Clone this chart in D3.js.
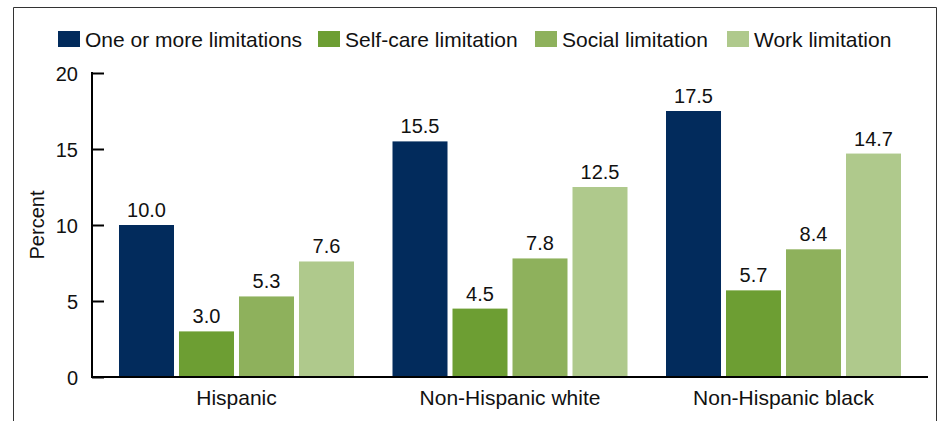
<!DOCTYPE html>
<html><head><meta charset="utf-8">
<script src="https://cdn.jsdelivr.net/npm/d3@7/dist/d3.min.js"></script>
<style>body{margin:0;background:#fff}svg{display:block;font-family:"Liberation Sans",Arial,sans-serif}</style>
</head><body><svg id="c" width="943" height="421"></svg>
<script>
const categories = ["Hispanic", "Non-Hispanic white", "Non-Hispanic black"];
const seriesNames = ["One or more limitations", "Self-care limitation", "Social limitation", "Work limitation"];
const oneOrMore = [10.0, 15.5, 17.5];
const selfCare = [3.0, 4.5, 5.7];
const social = [5.3, 7.8, 8.4];
const work = [7.6, 12.5, 14.7];
const yTicks = [0, 5, 10, 15, 20];
const colors = ["#022b5c", "#6d9e33", "#8eb15c", "#afc98c"];

const seriesValues = [oneOrMore, selfCare, social, work];
const svg = d3.select("#c");

// frame
svg.append("path").attr("d", "M13.5,421 V7.5 H936.5 V421").attr("fill", "none").attr("stroke", "#333").attr("stroke-width", 1);

const y = d3.scaleLinear().domain([0, 20]).range([377, 73]);
const x0 = d3.scaleBand().domain(categories).range([92, 928]).paddingInner(0.1408).paddingOuter(0.0987);
const x1 = d3.scaleBand().domain(seriesNames).range([0, x0.bandwidth()]).paddingInner(0.0833).paddingOuter(0);

const g = svg.append("g");
categories.forEach((c, ci) => {
  seriesNames.forEach((s, si) => {
    const v = seriesValues[si][ci];
    const bx = x0(c) + x1(s);
    g.append("rect").attr("x", bx).attr("y", y(v)).attr("width", x1.bandwidth()).attr("height", y(0) - y(v)).attr("fill", colors[si]);
    g.append("text").attr("x", bx + x1.bandwidth() / 2).attr("y", y(v) - 8).attr("text-anchor", "middle")
      .attr("font-size", 20).attr("fill", "#111").text(v.toFixed(1));
  });
});

// y axis
const ya = svg.append("g").attr("transform", "translate(92,0)")
  .call(d3.axisRight(y).tickValues(yTicks).tickSize(12).tickFormat(d3.format("d")));
ya.select(".domain").remove();
ya.selectAll(".tick line").attr("stroke", "#000").attr("stroke-width", 2);
ya.selectAll(".tick text").attr("x", -14).attr("text-anchor", "end").attr("font-size", 20).attr("fill", "#111").attr("dy", "0.35em");
svg.append("line").attr("x1", 92).attr("x2", 92).attr("y1", 72).attr("y2", 378).attr("stroke", "#000").attr("stroke-width", 2);

// x axis
const xa = svg.append("g").attr("transform", "translate(0,377)")
  .call(d3.axisBottom(x0).tickSize(0));
xa.select(".domain").remove();
xa.selectAll(".tick text").attr("font-size", 21).attr("fill", "#111").attr("dy", 0).attr("y", 28);
svg.append("line").attr("x1", 91).attr("x2", 928).attr("y1", 377).attr("y2", 377).attr("stroke", "#000").attr("stroke-width", 2);

// y title
svg.append("text").attr("transform", "translate(44,225) rotate(-90)").attr("text-anchor", "middle")
  .attr("font-size", 20).attr("fill", "#111").text("Percent");

// legend
const legendX = [58, 318, 535, 727];
const lg = svg.append("g");
seriesNames.forEach((s, i) => {
  lg.append("rect").attr("x", legendX[i]).attr("y", 31).attr("width", 22).attr("height", 16).attr("fill", colors[i]);
  lg.append("text").attr("x", legendX[i] + 27).attr("y", 47).attr("font-size", 21).attr("fill", "#111").text(s);
});
</script></body></html>
